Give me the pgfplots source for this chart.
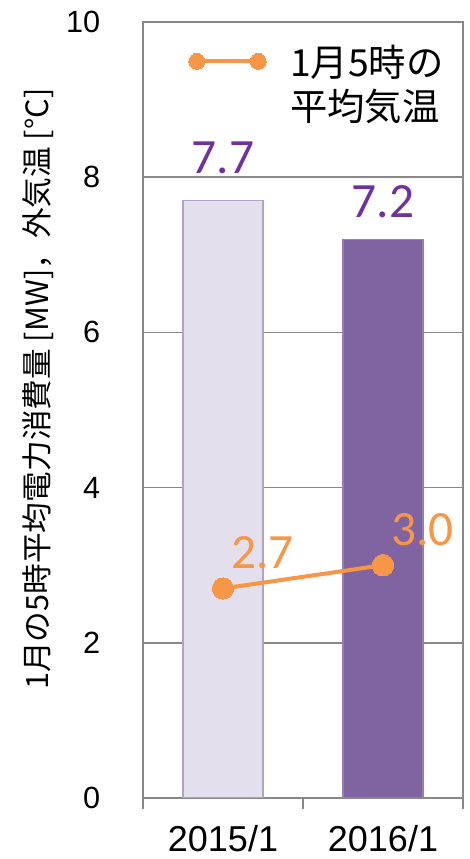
\documentclass[border=0pt]{standalone}
\usepackage{pgfplots}
\pgfplotsset{compat=1.18}
\usepackage{fontspec}
\setmainfont{Liberation Sans}
\newfontfamily\jp{Noto Sans CJK JP}
\newfontfamily\calfont{Carlito}
\definecolor{lightbar}{HTML}{E4DFEC}
\definecolor{lightedge}{HTML}{B3A2C7}
\definecolor{darkbar}{HTML}{8064A2}
\definecolor{darkedge}{HTML}{9380B0}
\definecolor{lblpurple}{HTML}{7030A0}
\definecolor{orng}{HTML}{F79646}
\definecolor{gridgray}{HTML}{888888}
\begin{document}
\begin{tikzpicture}
\useasboundingbox (-107.25pt,-45.75pt) rectangle (245.25pt,598.5pt);
\begin{axis}[
  at={(0pt,0pt)}, anchor=south west,
  width=240pt, height=582pt, scale only axis,
  xmin=-0.5, xmax=1.5, ymin=0, ymax=10,
  xtick={0,1}, xticklabels={2015/1,2016/1},
  minor xtick={-0.5,0.5,1.5},
  ytick={0,2,4,6,8,10},
  tick pos=left,
  major tick length=0pt,
  minor tick length=8pt,
  tick align=outside,
  minor tick style={gridgray, line width=1pt},
  ymajorgrids, grid style={gridgray, line width=1.1pt},
  axis line style={gridgray, line width=1.2pt},
  /pgf/number format/assume math mode=true,
  yticklabel style={font=\fontsize{23}{23}\selectfont, xshift=-28.5pt},
  xticklabel style={font=\fontsize{27}{27}\selectfont, yshift=-17pt},
  ylabel={\jp 1月の5時平均電力消費量 [MW]，外気温 [°C]},
  ylabel style={font=\fontsize{23}{23}\selectfont, at={(axis description cs:-0.328,0.527)}, anchor=center},
  legend style={draw=none, fill=none, at={(axis description cs:0.13,0.978)}, anchor=north west,
    font=\jp\fontsize{28}{28}\selectfont, row sep=4pt, cells={anchor=west},
    /tikz/every odd column/.append style={column sep=16pt}},
  legend image code/.code={\draw[#1, mark size=6pt] plot coordinates {(0pt,0pt) (46pt,0pt)};},
]
\addplot[ybar, bar width=60pt, bar shift=0pt, fill=lightbar, draw=lightedge, line width=0.8pt, forget plot,
  nodes near coords={\pgfmathprintnumber[fixed,fixed zerofill,precision=1]{\pgfplotspointmeta}},
  nodes near coords style={anchor=south, inner sep=0pt, yshift=19.5pt, font=\calfont\fontsize{37}{37}\selectfont, text=lblpurple}]
  coordinates {(0,7.7)};
\addplot[ybar, bar width=60pt, bar shift=0pt, fill=darkbar, draw=darkedge, line width=0.8pt, forget plot,
  nodes near coords={\pgfmathprintnumber[fixed,fixed zerofill,precision=1]{\pgfplotspointmeta}},
  nodes near coords style={anchor=south, inner sep=0pt, yshift=15.75pt, font=\calfont\fontsize{37}{37}\selectfont, text=lblpurple}]
  coordinates {(1,7.2)};
\addplot[orng, line width=3pt, mark=*, mark size=8pt, mark options={solid, fill=orng, draw=orng, line width=0pt},
  nodes near coords={\pgfmathprintnumber[fixed,fixed zerofill,precision=1]{\pgfplotspointmeta}},
  nodes near coords style={anchor=base west, inner sep=0pt, xshift=6pt, yshift=15pt, font=\calfont\fontsize{37}{37}\selectfont, text=orng}]
  coordinates {(0,2.7) (1,3.0)};
\addlegendentry{1月5時の}
\addlegendimage{empty legend}
\addlegendentry{平均気温}
\end{axis}
\end{tikzpicture}
\end{document}
